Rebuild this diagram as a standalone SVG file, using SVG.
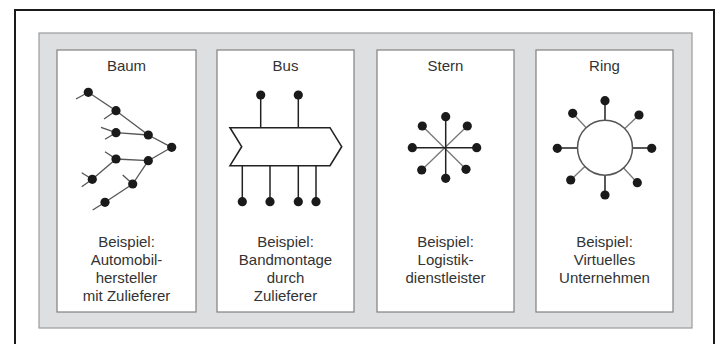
<svg xmlns="http://www.w3.org/2000/svg" width="720" height="344" viewBox="0 0 720 344">
<style>
.frame{fill:#fff;stroke:#1a1a1a;stroke-width:2}
.bg{fill:#dedfe1;stroke:#9c9c9c;stroke-width:1.2}
.panel{fill:#fff;stroke:#808080;stroke-width:1.2}
text{font-family:"Liberation Sans",Arial,sans-serif;font-size:15px;fill:#333;text-anchor:middle}
.ln{stroke:#555;stroke-width:1.3;fill:none}
.dk{stroke:#222;stroke-width:1.5;fill:none}
.lt{stroke:#777;stroke-width:1.3;fill:none}
.dot{fill:#1a1a1a}
.bus{fill:#fff;stroke:#222;stroke-width:1.6}
.ring{fill:#fff;stroke:#555;stroke-width:1.5}
</style>
<rect class="frame" x="15" y="10" width="699" height="345"/>
<rect class="bg" x="39" y="33" width="653" height="295"/>

<g id="baum">
<rect class="panel" x="57" y="50" width="139" height="262"/>
<text x="126.5" y="71">Baum</text>
<g class="ln">
<line x1="88.3" y1="92.3" x2="76" y2="99"/>
<line x1="88.3" y1="92.3" x2="116" y2="110.7"/>
<line x1="116" y1="110.7" x2="104" y2="119"/>
<line x1="116" y1="110.7" x2="148.3" y2="135"/>
<line x1="116" y1="132.7" x2="101" y2="127.3"/>
<line x1="116" y1="132.7" x2="105" y2="139.3"/>
<line x1="116" y1="132.7" x2="148.3" y2="135"/>
<line x1="148.3" y1="135" x2="171.7" y2="147.3"/>
<line x1="171.7" y1="147.3" x2="148.3" y2="160.7"/>
<line x1="116" y1="159" x2="148.3" y2="160.7"/>
<line x1="116" y1="159" x2="105" y2="151.7"/>
<line x1="116" y1="159" x2="92.3" y2="179.3"/>
<line x1="92.3" y1="179.3" x2="81.7" y2="172.7"/>
<line x1="92.3" y1="179.3" x2="81.7" y2="186.7"/>
<line x1="148.3" y1="160.7" x2="132.7" y2="184"/>
<line x1="132.7" y1="184" x2="122.7" y2="175"/>
<line x1="132.7" y1="184" x2="105" y2="202.3"/>
<line x1="105" y1="202.3" x2="92.7" y2="210"/>
</g>
<g class="dot">
<circle cx="88.3" cy="92.3" r="4.6"/>
<circle cx="116" cy="110.7" r="4.6"/>
<circle cx="116" cy="132.7" r="4.6"/>
<circle cx="148.3" cy="135" r="4.6"/>
<circle cx="171.7" cy="147.3" r="4.6"/>
<circle cx="116" cy="159" r="4.6"/>
<circle cx="148.3" cy="160.7" r="4.6"/>
<circle cx="92.3" cy="179.3" r="4.6"/>
<circle cx="132.7" cy="184" r="4.6"/>
<circle cx="105" cy="202.3" r="4.6"/>
</g>
<text x="126.5" y="247">Beispiel:</text>
<text x="126.5" y="265">Automobil-</text>
<text x="126.5" y="283">hersteller</text>
<text x="126.5" y="301">mit Zulieferer</text>
</g>

<g id="bus">
<rect class="panel" x="217" y="50" width="137" height="262"/>
<text x="285.5" y="71">Bus</text>
<g class="dk">
<line x1="260.7" y1="95" x2="260.7" y2="127.7"/>
<line x1="298.3" y1="95" x2="298.3" y2="127.7"/>
<line x1="242.3" y1="165.7" x2="242.3" y2="201.7"/>
<line x1="270" y1="165.7" x2="270" y2="201.7"/>
<line x1="298.3" y1="165.7" x2="298.3" y2="201.7"/>
<line x1="316" y1="165.7" x2="316" y2="201.7"/>
</g>
<polygon class="bus" points="230,127.7 330,127.7 341.7,146.7 330,165.7 230,165.7 241.7,146.7"/>
<g class="dot">
<circle cx="260.7" cy="95" r="4.6"/>
<circle cx="298.3" cy="95" r="4.6"/>
<circle cx="242.3" cy="201.7" r="4.6"/>
<circle cx="270" cy="201.7" r="4.6"/>
<circle cx="298.3" cy="201.7" r="4.6"/>
<circle cx="316" cy="201.7" r="4.6"/>
</g>
<text x="285.5" y="247">Beispiel:</text>
<text x="285.5" y="265">Bandmontage</text>
<text x="285.5" y="283">durch</text>
<text x="285.5" y="301">Zulieferer</text>
</g>

<g id="stern">
<rect class="panel" x="377" y="50" width="137" height="262"/>
<text x="445.5" y="71">Stern</text>
<g class="lt">
<line x1="422.3" y1="126" x2="466" y2="169.3"/>
<line x1="467.3" y1="126" x2="421.7" y2="170"/>
</g>
<g class="dk">
<line x1="445.7" y1="116.7" x2="445.7" y2="178.3"/>
<line x1="412.3" y1="147.7" x2="476.7" y2="147.7"/>
</g>
<g class="dot">
<circle cx="445.7" cy="116.7" r="4.6"/>
<circle cx="445.7" cy="178.3" r="4.6"/>
<circle cx="412.3" cy="147.7" r="4.6"/>
<circle cx="476.7" cy="147.7" r="4.6"/>
<circle cx="422.3" cy="126" r="4.6"/>
<circle cx="467.3" cy="126" r="4.6"/>
<circle cx="421.7" cy="170" r="4.6"/>
<circle cx="466" cy="169.3" r="4.6"/>
</g>
<text x="445.5" y="247">Beispiel:</text>
<text x="445.5" y="265">Logistik-</text>
<text x="445.5" y="283">dienstleister</text>
</g>

<g id="ring">
<rect class="panel" x="536" y="50" width="137" height="262"/>
<text x="604.5" y="71">Ring</text>
<g class="lt">
<line x1="572.7" y1="113.3" x2="637.3" y2="182.7"/>
<line x1="639" y1="115" x2="570.7" y2="180"/>
</g>
<g class="dk">
<line x1="605" y1="100.7" x2="605" y2="195"/>
<line x1="557.3" y1="148" x2="651.7" y2="148"/>
</g>
<circle class="ring" cx="605" cy="147.7" r="27.5"/>
<g class="dot">
<circle cx="605" cy="100.7" r="4.6"/>
<circle cx="605" cy="195" r="4.6"/>
<circle cx="557.3" cy="148.3" r="4.6"/>
<circle cx="651.7" cy="148.3" r="4.6"/>
<circle cx="572.7" cy="113.3" r="4.6"/>
<circle cx="639" cy="115" r="4.6"/>
<circle cx="570.7" cy="180" r="4.6"/>
<circle cx="637.3" cy="182.7" r="4.6"/>
</g>
<text x="604.5" y="247">Beispiel:</text>
<text x="604.5" y="265">Virtuelles</text>
<text x="604.5" y="283">Unternehmen</text>
</g>
</svg>
